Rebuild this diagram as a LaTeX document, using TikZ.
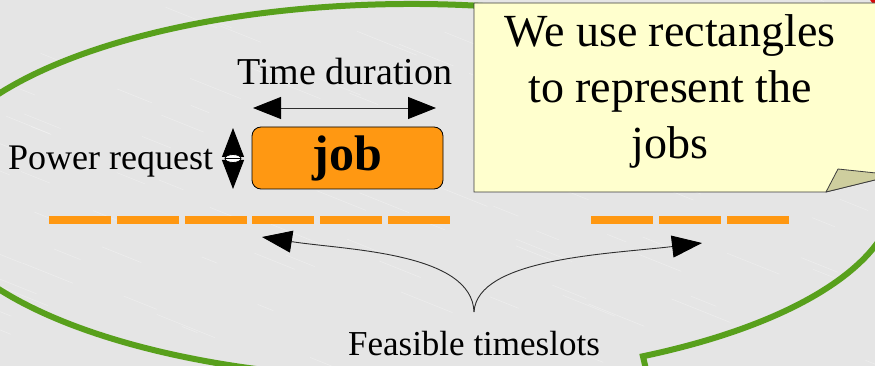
\documentclass[tikz,border=0pt]{standalone}
\usepackage{fontspec}
\setmainfont{Liberation Serif}
\usetikzlibrary{arrows.meta,shapes.geometric,calc}
\definecolor{bgmarble}{RGB}{229,229,229}
\definecolor{callgreen}{RGB}{88,160,28}
\definecolor{jobor}{RGB}{255,152,18}
\definecolor{noteyel}{RGB}{255,255,206}
\definecolor{notefold}{RGB}{206,206,158}
\definecolor{noteedge}{RGB}{60,60,60}
\definecolor{lineink}{RGB}{45,45,45}
\definecolor{redblob}{RGB}{215,10,10}
\begin{document}
\begin{tikzpicture}[x=1pt,y=-1pt,
  slotbar/.style={fill=jobor,draw=none},
  jobbox/.style={draw=black,line width=0.8pt,fill=jobor,rounded corners=9pt,
    minimum width=191pt,minimum height=62pt,inner sep=0pt,
    font=\fontsize{50}{50}\selectfont\bfseries},
  lbl/.style={inner sep=0pt,text=black},
  thinarrow/.style={draw=lineink,line width=0.9pt},
  bigtip/.style={-{Triangle[length=30pt,width=22pt,color=black]}},
  bothtips/.style={{Triangle[length=28pt,width=22pt,color=black]}-{Triangle[length=28pt,width=22pt,color=black]}},
  vtips/.style={{Triangle[length=29pt,width=22pt,color=black]}-{Triangle[length=29pt,width=22pt,color=black]}},
  callout/.style={draw=callgreen,line width=6pt,line join=miter},
  note/.style={draw=noteedge,fill=noteyel,line width=0.8pt,line join=miter},
  notefoldstyle/.style={draw=noteedge,fill=notefold,line width=0.8pt,line join=round}
]
\useasboundingbox (0,0) rectangle (875,366);
\clip (0,0) rectangle (875,366);
% marble background
\fill[bgmarble] (0,0) rectangle (875,366);
\pgfmathsetseed{11}
\foreach \i in {1,...,110}{
  \pgfmathsetmacro{\px}{rnd*900-20}
  \pgfmathsetmacro{\py}{rnd*380-10}
  \pgfmathsetmacro{\pl}{15+rnd*45}
  \draw[white,opacity=0.3,line width=0.6pt] (\px,\py) -- ++(\pl,0.4*\pl);
}
% green oval callout
\coordinate (ec) at (412,191.5);
\draw[callout] (652,395) -- ($(ec)+(-61.5:484pt and 187.5pt)$)
  arc[start angle=-61.5,end angle=253,x radius=484pt,y radius=187.5pt];
% red blob at corner
\fill[redblob] (881,-5) circle (12pt);
% note
\path[note] (474,3) -- (905,3) -- (905,172) -- (895,175) -- (826,192) -- (474,192) -- cycle;
\path[notefoldstyle] (826,192) -- (838,169) -- (895,175) -- cycle;
\node[lbl,anchor=base,font=\fontsize{46}{46}\selectfont] (notea) at (670,47) {We use rectangles};
\node[lbl,anchor=base,font=\fontsize{46}{46}\selectfont] (noteb) at (670,103) {to represent the};
\node[lbl,anchor=base,font=\fontsize{46}{46}\selectfont] (notec) at (670,159) {jobs};
% timeslots
\foreach \xs in {49,117,185,252,320,388,591,659,727}
  \fill[slotbar] (\xs,216) rectangle ++(62,8);
% job
\node[jobbox] (job) at (347.5,158) {job};
% time duration
\node[lbl,anchor=base,font=\fontsize{38}{38}\selectfont] (tdtext) at (345,85) {Time duration};
\coordinate (tdL) at (253,108);
\coordinate (tdR) at (436,108);
\draw[thinarrow,bothtips] (tdL) -- (tdR);
% power request
\node[lbl,anchor=base west,font=\fontsize{36}{36}\selectfont] (prtext) at (8,170) {Power request};
\coordinate (prT) at (233,128);
\coordinate (prB) at (233,189);
\draw[thinarrow,vtips] (prT) -- (prB);
\node[ellipse,draw=black,fill=white,line width=0.8pt,minimum width=16pt,minimum height=8pt,inner sep=0pt] (prmid) at (233,158.5) {};
\draw[black,line width=0.8pt] (prmid.west) -- (prmid.east);
% feasible timeslots
\node[lbl,anchor=base,font=\fontsize{35}{35}\selectfont] (fstext) at (474,355) {Feasible timeslots};
\coordinate (brace) at (474,312);
\coordinate (fsL) at (262,237);
\coordinate (fsR) at (702,243);
\draw[thinarrow,bigtip] (brace) .. controls (472,252) and (345,250) .. (fsL);
\draw[thinarrow,bigtip] (brace) .. controls (477,258) and (610,254) .. (fsR);
\end{tikzpicture}
\end{document}
